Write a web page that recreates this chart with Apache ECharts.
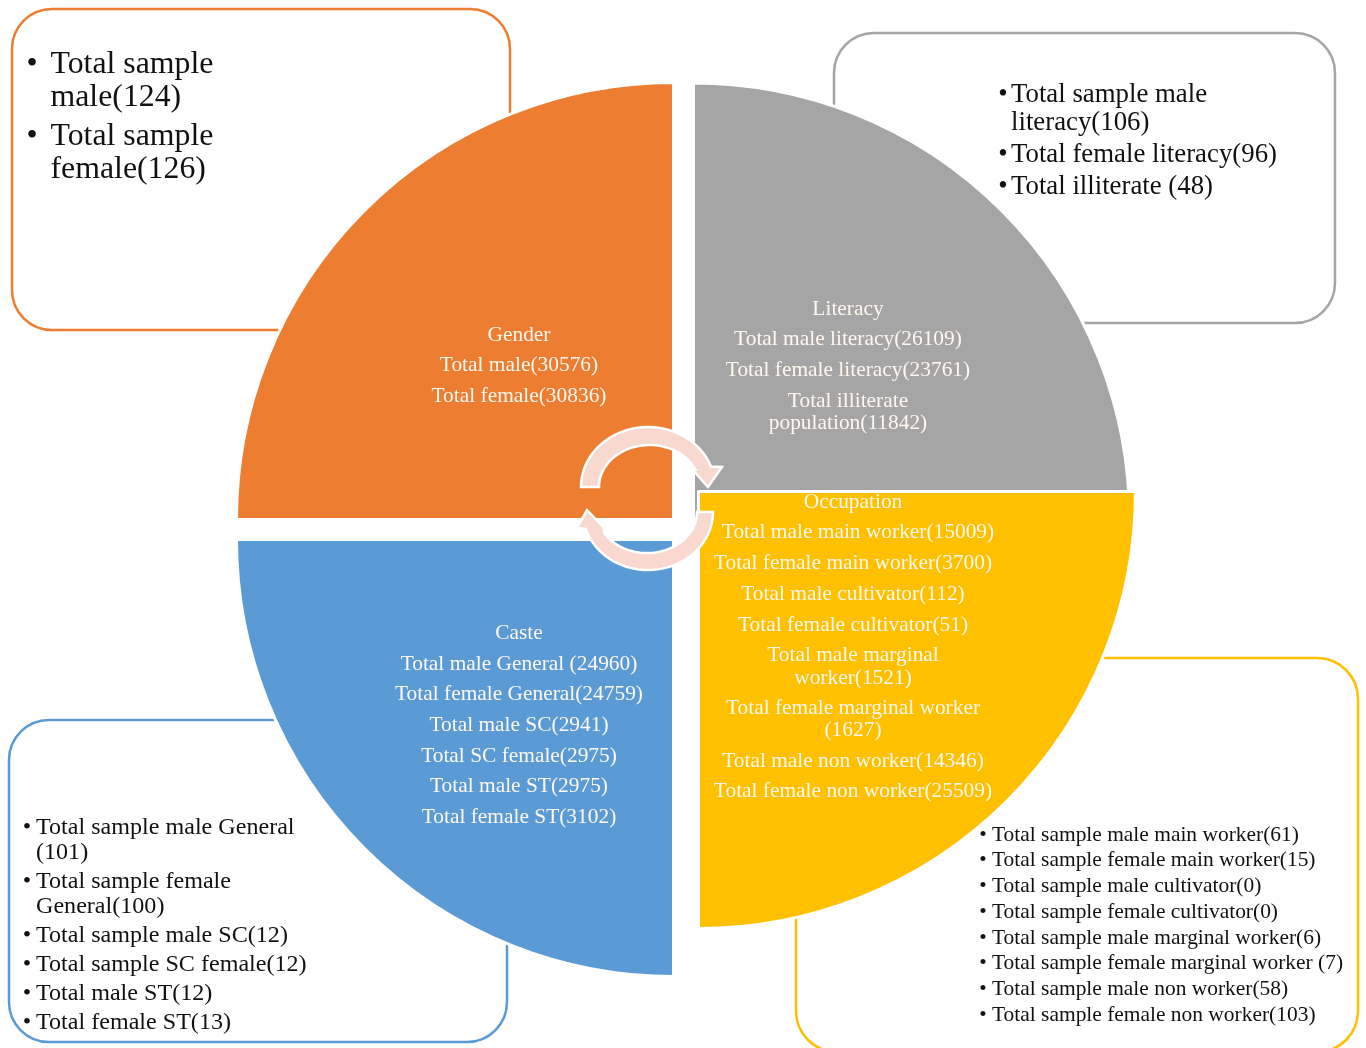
<!DOCTYPE html>
<html>
<head>
<meta charset="utf-8">
<title>Study population and sample profile</title>
<style>html,body{margin:0;padding:0;background:#fff}#chart{width:1366px;height:1048px}</style>
<script src="https://cdn.jsdelivr.net/npm/echarts@6/dist/echarts.min.js"></script>
</head>
<body>
<div id="chart"></div>
<script>
// Sector names and their equal shares of the wheel
const sectorNames = ['Gender', 'Literacy', 'Occupation', 'Caste'];
const sectorShares = [1, 1, 1, 1];
const sectorColors = ['#ED7D31', '#A5A5A5', '#FFC000', '#5B9BD5'];

// Population figures written inside each sector
const genderPopulation = ['Gender', 'Total male(30576)', 'Total female(30836)'];
const literacyPopulation = ['Literacy', 'Total male literacy(26109)', 'Total female literacy(23761)',
  'Total illiterate', 'population(11842)'];
const occupationPopulation = ['Occupation', 'Total male main worker(15009)', 'Total female main worker(3700)',
  'Total male cultivator(112)', 'Total female cultivator(51)', 'Total male marginal', 'worker(1521)',
  'Total female marginal worker', '(1627)', 'Total male non worker(14346)', 'Total female non worker(25509)'];
const castePopulation = ['Caste', 'Total male General (24960)', 'Total female General(24759)',
  'Total male SC(2941)', 'Total SC female(2975)', 'Total male ST(2975)', 'Total female ST(3102)'];

// Sample figures listed in the callouts; an entry without a bullet continues the line above
const genderSample = ['Total sample', '~male(124)', 'Total sample', '~female(126)'];
const literacySample = ['Total sample male', '~literacy(106)', 'Total female literacy(96)', 'Total illiterate (48)'];
const occupationSample = ['Total sample male main worker(61)', 'Total sample female main worker(15)',
  'Total sample male cultivator(0)', 'Total sample female cultivator(0)', 'Total sample male marginal worker(6)',
  'Total sample female marginal worker (7)', 'Total sample male non worker(58)', 'Total sample female non worker(103)'];
const casteSample = ['Total sample male General', '~(101)', 'Total sample female', '~General(100)',
  'Total sample male SC(12)', 'Total sample SC female(12)', 'Total male ST(12)', 'Total female ST(13)'];

const FONT = '"Liberation Serif", "Times New Roman", serif';

// Each wheel sector sits on its own centre, which opens the white gaps between them
const wheel = [
  { center: [673.5, 519.5], radius: 437, start: 180, end: 90 },
  { center: [693.5, 519], radius: 436, start: 90, end: 0 },
  { center: [698.5, 491.5], radius: 437, start: 0, end: -90 },
  { center: [673.5, 539.5], radius: 437, start: -90, end: -180 }
];
// Literacy is drawn before Occupation so the yellow sector overlaps it
const series = wheel.map((w, i) => ({
  type: 'pie',
  name: sectorNames[i],
  z: 2 + i,
  center: w.center,
  radius: [0, w.radius],
  startAngle: w.start,
  endAngle: w.end,
  silent: true,
  animation: false,
  label: { show: false },
  labelLine: { show: false },
  emphasis: { disabled: true },
  itemStyle: { color: sectorColors[i], borderColor: '#fff', borderWidth: 3 },
  data: [{ name: sectorNames[i], value: sectorShares[i] }]
}));

const graphics = [];

function callout(x, y, w, h, r, color) {
  graphics.push({
    type: 'rect', z: 0, silent: true,
    shape: { x, y, width: w, height: h, r },
    style: { fill: '#fff', stroke: color, lineWidth: 2.5 }
  });
}
callout(12, 9, 498, 321, 40, sectorColors[0]);
callout(834, 33, 501, 290, 40, sectorColors[1]);
callout(796, 658, 562, 394, 41, sectorColors[2]);
callout(9, 720, 498, 322, 40, sectorColors[3]);

function centred(lines, x, ys, shifts = {}) {
  lines.forEach((text, i) => graphics.push({
    type: 'text', z: 30, silent: true,
    style: { text, x: x + (shifts[i] || 0), y: ys[i], fill: '#FFF8F0', font: '21.4px ' + FONT, textAlign: 'center', textVerticalAlign: 'middle' }
  }));
}
centred(genderPopulation, 519, [335, 365, 396]);
centred(literacyPopulation, 848, [309, 339, 370, 401, 423]);
centred(occupationPopulation, 853, [502, 532, 563, 594, 625, 655, 678, 708, 730, 761, 791], { 1: 5 });
centred(castePopulation, 519, [633, 664, 694, 725, 756, 786, 817]);

function bullets(lines, bulletX, textX, ys, size) {
  lines.forEach((line, i) => {
    const cont = line[0] === '~';
    graphics.push({
      type: 'text', z: 30, silent: true,
      style: { text: cont ? line.slice(1) : line, x: textX, y: ys[i], fill: '#111', font: size + 'px ' + FONT, textAlign: 'left', textVerticalAlign: 'middle' }
    });
    if (!cont) {
      graphics.push({
        type: 'text', z: 30, silent: true,
        style: { text: '•', x: bulletX, y: ys[i], fill: '#111', font: size + 'px ' + FONT, textAlign: 'center', textVerticalAlign: 'middle' }
      });
    }
  });
}
bullets(genderSample, 32, 50.5, [65, 98, 137, 170], 31.8);
bullets(literacySample, 1003, 1011, [94.5, 122.5, 154.5, 186.5], 26.8);
bullets(occupationSample, 983, 992, [835, 860, 886, 912, 938, 963, 989, 1015], 21.45);
bullets(casteSample, 27, 36, [827.5, 852.5, 881.5, 906.5, 935.5, 964.5, 993.5, 1022.5], 24.1);

// Points along an elliptical arc, angles in degrees measured clockwise on screen
function arc(cx, cy, rx, ry, from, to, steps = 40) {
  const pts = [];
  for (let k = 0; k <= steps; k++) {
    const a = (from + (to - from) * k / steps) * Math.PI / 180;
    pts.push([cx + rx * Math.cos(a), cy + ry * Math.sin(a)]);
  }
  return pts;
}

// Circular arrows linking the sectors
const arrowStyle = { fill: '#F8D8CF', stroke: '#fff', lineWidth: 2.5, lineJoin: 'miter' };
[
  [...arc(648, 487, 67, 60, 180, 340), [722, 467], [708, 487], [691, 468], ...arc(649.5, 487, 50.5, 42, 335, 180)],
  [...arc(648, 512, 65, 58, 0, 163), [577, 528], [587, 510], [604, 528], ...arc(647, 512, 50, 41, 150, 0)]
].forEach(points => graphics.push({
  type: 'polygon', z: 20, silent: true, shape: { points }, style: arrowStyle
}));

const chart = echarts.init(document.getElementById('chart'), null, { renderer: 'canvas' });
chart.setOption({
  animation: false,
  backgroundColor: '#fff',
  tooltip: { show: false },
  series,
  graphic: { elements: graphics }
});
</script>
</body>
</html>
